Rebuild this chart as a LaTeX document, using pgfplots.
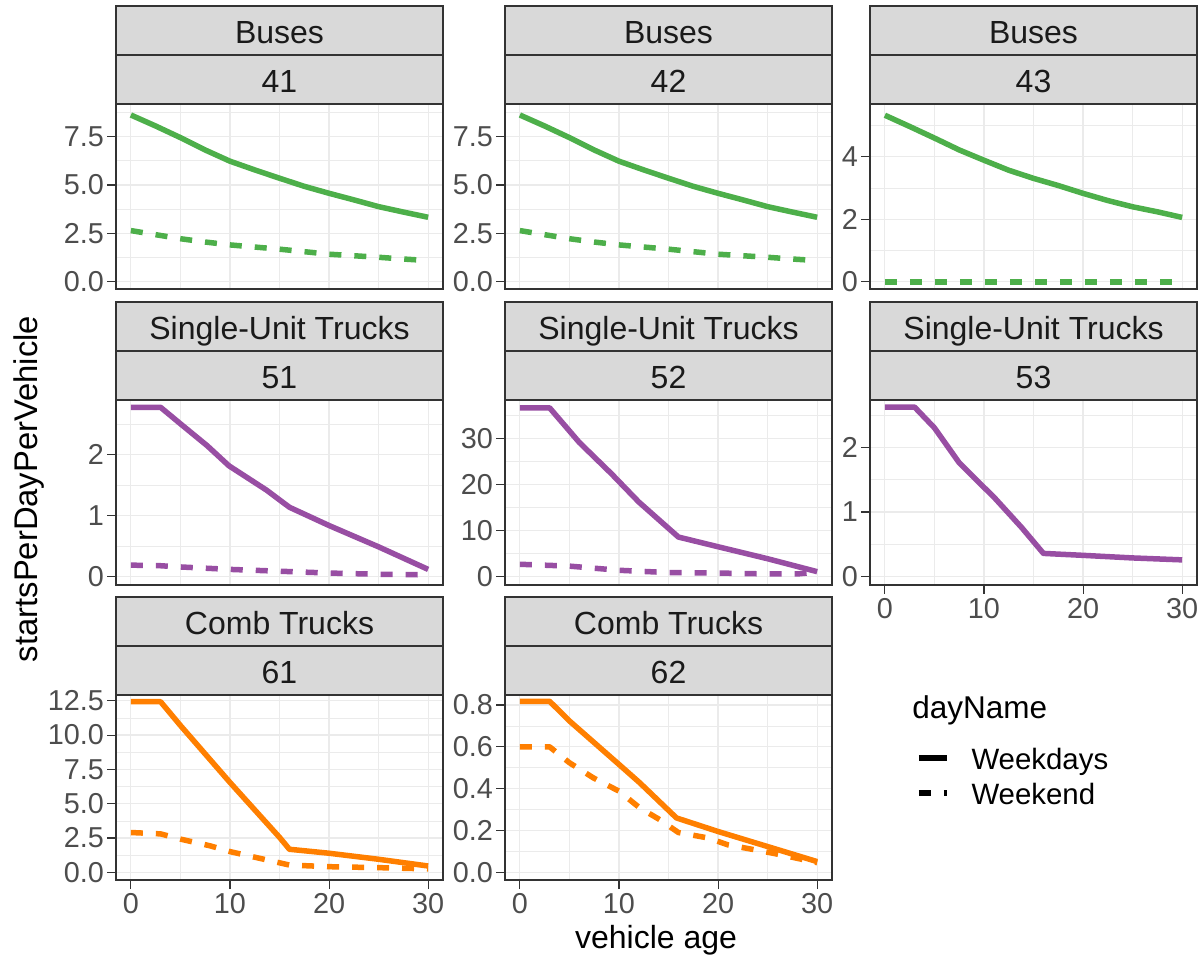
\documentclass[border=0pt]{standalone}
\usepackage{fontspec}
\setmainfont{Liberation Sans}
\usepackage{pgfplots}
\pgfplotsset{compat=1.18}
\definecolor{gridgray}{HTML}{EBEBEB}
\definecolor{bordergray}{HTML}{333333}
\definecolor{tickgray}{HTML}{4D4D4D}
\definecolor{stripfill}{HTML}{D9D9D9}
\definecolor{stripText}{HTML}{1A1A1A}
\definecolor{cgreen}{HTML}{4DAF4A}
\definecolor{cpurple}{HTML}{984EA3}
\definecolor{corange}{HTML}{FF7F00}
\pgfplotsset{
  facet/.style={
    scale only axis, width=163.5pt, height=92.5pt, anchor=south west,
    xmin=-1.5, xmax=31.5,
    xtick={0,10,20,30}, minor xtick={5,15,25},
    xticklabels={0,10,20,30},
    grid=both,
    major grid style={draw=gridgray, line width=0.6pt},
    minor grid style={draw=gridgray, line width=0.35pt},
    axis line style={draw=bordergray, line width=0.8pt},
    tick style={draw=bordergray, line width=0.55pt},
    tick align=outside, major tick length=4.5pt, minor tick length=0pt,
    tickpos=left,
    ticklabel style={font=\fontsize{14.4}{16}\selectfont, text=tickgray},
    yticklabel style={xshift=2pt},
    xticklabel style={yshift=1.5pt},
    /pgf/number format/assume math mode=true,
    no markers,
  },
  noxticks/.style={xmajorticks=false, xticklabels={}},
  wd/.style={line width=2.75pt, line cap=butt, line join=round},
  we/.style={line width=2.75pt, line cap=butt, line join=round, dash pattern=on 6pt off 6.5pt},
}
\newcommand{\facetstrip}[4]{%
  \draw[fill=stripfill, draw=bordergray, line width=0.8pt] (#1pt,#2pt) rectangle ++(163.5pt,49pt);
  \draw[draw=bordergray, line width=0.8pt] ([yshift=24.5pt]#1pt,#2pt) -- ++(163.5pt,0pt);
  \node[anchor=base, font=\fontsize{16}{19}\selectfont, text=stripText, inner sep=0pt] at ([shift={(81.75pt,5.5pt)}]#1pt,#2pt) {#4};
  \node[anchor=base, font=\fontsize{16}{19}\selectfont, text=stripText, inner sep=0pt] at ([shift={(81.75pt,30pt)}]#1pt,#2pt) {#3};
}
\begin{document}
\begin{tikzpicture}
\path[use as bounding box] (0pt,0pt) rectangle (601pt,478.5pt);

% ---------- Row 1: Buses ----------
\begin{axis}[facet, noxticks, at={(58pt,334pt)},
  ymin=-0.38, ymax=9.19, ytick={0,2.5,5,7.5}, yticklabels={0.0,2.5,5.0,7.5},
  minor ytick={1.25,3.75,6.25,8.75}]
\addplot[wd, cgreen] coordinates {(0,8.62)(2.5,8.05)(5,7.45)(7.5,6.81)(10,6.23)(12.5,5.78)(15,5.35)(17.5,4.93)(20,4.57)(22.5,4.23)(25,3.88)(27.5,3.6)(30,3.33)};
\addplot[we, cgreen] coordinates {(0,2.64)(2.5,2.43)(5,2.22)(7.5,2.05)(10,1.90)(12.5,1.79)(15,1.68)(17.5,1.55)(20,1.42)(22.5,1.34)(25,1.26)(27.5,1.17)(30,1.09)};
\end{axis}

\begin{axis}[facet, noxticks, at={(252.5pt,334pt)},
  ymin=-0.38, ymax=9.19, ytick={0,2.5,5,7.5}, yticklabels={0.0,2.5,5.0,7.5},
  minor ytick={1.25,3.75,6.25,8.75}]
\addplot[wd, cgreen] coordinates {(0,8.62)(2.5,8.05)(5,7.45)(7.5,6.81)(10,6.23)(12.5,5.78)(15,5.35)(17.5,4.93)(20,4.57)(22.5,4.23)(25,3.88)(27.5,3.6)(30,3.33)};
\addplot[we, cgreen] coordinates {(0,2.64)(2.5,2.43)(5,2.22)(7.5,2.05)(10,1.90)(12.5,1.79)(15,1.68)(17.5,1.55)(20,1.42)(22.5,1.34)(25,1.26)(27.5,1.17)(30,1.09)};
\end{axis}

\begin{axis}[facet, noxticks, at={(435pt,334pt)},
  ymin=-0.23, ymax=5.69, ytick={0,2,4}, yticklabels={0,2,4},
  minor ytick={1,3,5}]
\addplot[wd, cgreen] coordinates {(0,5.33)(2.5,4.97)(5,4.6)(7.5,4.22)(10,3.89)(12.5,3.57)(15,3.31)(17.5,3.08)(20,2.83)(22.5,2.6)(25,2.4)(27.5,2.24)(30,2.06)};
\addplot[we, cgreen] coordinates {(0,0)(5,0)(10,0)(15,0)(20,0)(25,0)(30,0)};
\end{axis}

% ---------- Row 2: Single-Unit Trucks ----------
\begin{axis}[facet, noxticks, at={(58pt,186pt)},
  ymin=-0.136, ymax=2.90, ytick={0,1,2}, yticklabels={0,1,2},
  minor ytick={0.5,1.5,2.5}]
\addplot[wd, cpurple] coordinates {(0,2.78)(3,2.78)(5,2.51)(7.7,2.15)(9.9,1.82)(13.7,1.42)(16,1.14)(20,0.84)(25,0.49)(30,0.12)};
\addplot[we, cpurple] coordinates {(0,0.19)(3,0.18)(5,0.16)(10,0.12)(15,0.09)(20,0.06)(25,0.04)(30,0.03)};
\end{axis}

\begin{axis}[facet, noxticks, at={(252.5pt,186pt)},
  ymin=-1.79, ymax=38.3, ytick={0,10,20,30}, yticklabels={0,10,20,30},
  minor ytick={5,15,25,35}]
\addplot[wd, cpurple] coordinates {(0,36.6)(3,36.6)(6,29.1)(9.25,22.3)(12,16.2)(16,8.6)(20,6.5)(25,3.9)(30,1.1)};
\addplot[we, cpurple] coordinates {(0,2.7)(5,2.3)(10,1.4)(15,0.9)(20,0.8)(25,0.6)(28,0.6)(30,1.0)};
\end{axis}

\begin{axis}[facet, at={(435pt,186pt)},
  ymin=-0.128, ymax=2.73, ytick={0,1,2}, yticklabels={0,1,2},
  minor ytick={0.5,1.5,2.5}]
\addplot[wd, cpurple] coordinates {(0,2.62)(3,2.62)(5,2.3)(7.5,1.76)(10,1.38)(11,1.23)(13.8,0.76)(16,0.36)(20,0.33)(25,0.29)(30,0.26)};
\end{axis}

% ---------- Row 3: Comb Trucks ----------
\begin{axis}[facet, at={(58pt,38.5pt)},
  ymin=-0.56, ymax=12.92, ytick={0,2.5,5,7.5,10,12.5}, yticklabels={0.0,2.5,5.0,7.5,10.0,12.5},
  minor ytick={1.25,3.75,6.25,8.75,11.25}]
\addplot[wd, corange] coordinates {(0,12.43)(3,12.43)(5,10.7)(10,6.55)(15,2.55)(16,1.68)(20,1.39)(25,0.95)(30,0.46)};
\addplot[we, corange] coordinates {(0,2.9)(3,2.8)(5,2.42)(8,1.93)(10,1.51)(13,1.02)(16,0.53)(20,0.41)(25,0.34)(30,0.25)};
\end{axis}

\begin{axis}[facet, at={(252.5pt,38.5pt)},
  ymin=-0.037, ymax=0.848, ytick={0,0.2,0.4,0.6,0.8}, yticklabels={0.0,0.2,0.4,0.6,0.8},
  minor ytick={0.1,0.3,0.5,0.7},
  legend style={draw=none, fill=none, inner sep=0pt, outer sep=0pt,
    at={(1.2569,0.7081)}, anchor=north west, row sep=4pt, column sep=11pt,
    font=\fontsize{14.7}{17}\selectfont,
    nodes={inner sep=0pt, text height=10.5pt, text depth=3pt}},
  legend cell align=left,
  legend image code/.code={\draw[#1] (0pt,2.2pt) -- (14pt,2.2pt);}]
\addlegendimage{wd, black}
\addlegendentry{Weekdays}
\addlegendimage{we, black}
\addlegendentry{Weekend}
\addplot[wd, corange, forget plot] coordinates {(0,0.818)(3,0.818)(5,0.724)(10,0.516)(12.1,0.428)(15.8,0.26)(20,0.195)(25,0.123)(30,0.051)};
\addplot[we, corange, forget plot] coordinates {(0,0.60)(3,0.60)(5,0.524)(7.4,0.452)(10,0.388)(12.1,0.308)(14.1,0.252)(16,0.19)(19,0.164)(21,0.131)(24,0.105)(26.5,0.082)(30,0.046)};
\end{axis}

% ---------- strips ----------
\facetstrip{58}{426.5}{Buses}{41}
\facetstrip{252.5}{426.5}{Buses}{42}
\facetstrip{435}{426.5}{Buses}{43}
\facetstrip{58}{278.5}{Single-Unit Trucks}{51}
\facetstrip{252.5}{278.5}{Single-Unit Trucks}{52}
\facetstrip{435}{278.5}{Single-Unit Trucks}{53}
\facetstrip{58}{131}{Comb Trucks}{61}
\facetstrip{252.5}{131}{Comb Trucks}{62}

% ---------- titles ----------
\node[rotate=90, anchor=base, font=\fontsize{16.4}{19}\selectfont, inner sep=0pt] at (18.5pt,234pt) {startsPerDayPerVehicle};
\node[anchor=base, font=\fontsize{16}{19}\selectfont, inner sep=0pt] at (328pt,4.5pt) {vehicle age};
\node[anchor=base west, font=\fontsize{15.75}{19}\selectfont, inner sep=0pt] at (456pt,119pt) {dayName};
\end{tikzpicture}
\end{document}
